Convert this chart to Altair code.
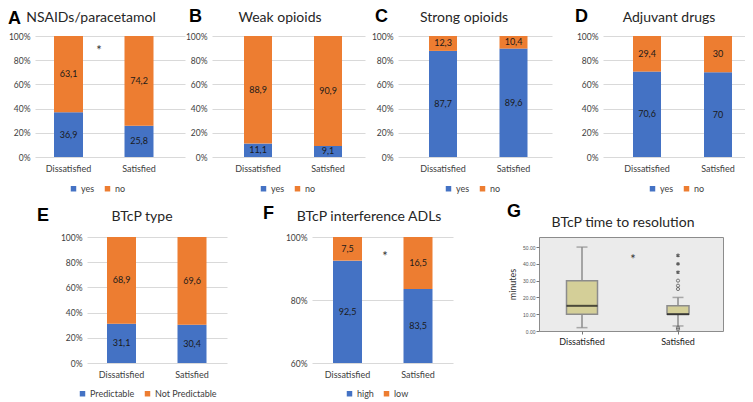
import altair as alt
import pandas as pd

# ---------------- data ----------------
categories = ["Dissatisfied", "Satisfied"]

yes_no = ["yes", "no"]
nsaids_yes = [36.9, 25.8]
nsaids_no = [63.1, 74.2]
weak_yes = [11.1, 9.1]
weak_no = [88.9, 90.9]
strong_yes = [87.7, 89.6]
strong_no = [12.3, 10.4]
adjuvant_yes = [70.6, 70]
adjuvant_no = [29.4, 30]

type_series = ["Predictable", "Not Predictable"]
type_pred = [31.1, 30.4]
type_notpred = [68.9, 69.6]

adl_series = ["high", "low"]
adl_high = [92.5, 83.5]
adl_low = [7.5, 16.5]

box_min = [2, 3]
box_q1 = [10, 10]
box_median = [15, 10]
box_q3 = [30, 15]
box_max = [50, 20]
outlier_cat = ["Satisfied", "Satisfied", "Satisfied", "Satisfied", "Satisfied"]
outlier_val = [25, 27, 30, 2, 1]
extreme_cat = ["Satisfied", "Satisfied", "Satisfied"]
extreme_val = [35, 40, 45]

pct_ticks = [0, 20, 40, 60, 80, 100]
adl_ticks = [60, 80, 100]
minute_ticks = [0, 10, 20, 30, 40, 50]

# ---------------- style ----------------
BLUE = "#4472C4"
ORANGE = "#ED7D31"
FONT = "Lato"
TXT = "#404040"
GRID = "#d9d9d9"
H1 = 121
H2 = 126
ASTERISK = "M0,-1L0,1M-0.87,-0.5L0.87,0.5M-0.87,0.5L0.87,-0.5"


def band_scale(W, c1, c2, bw):
    step = c2 - c1
    pi = 1 - bw / step
    outer = W - step - bw
    po = outer / (2 * step)
    al = (c1 - bw / 2) / outer
    return alt.Scale(type="band", domain=categories, paddingInner=pi,
                     paddingOuter=po, align=al)


def text_layer(txt, x, y, size, bold=False, font=FONT, align="left", color="#000"):
    return alt.Chart(pd.DataFrame({"t": [txt]})).mark_text(
        align=align, baseline="alphabetic", fontSize=size,
        fontWeight="bold" if bold else "normal", font=font, color=color
    ).encode(x=alt.value(x), y=alt.value(y), text="t:N")


def bar_panel(letter, title, series, first, second, W, H, c1, c2, bw, lo, ticks,
              L, T, LG, star=None):
    df = pd.DataFrame({
        "cat": categories * 2,
        "series": [series[0]] * 2 + [series[1]] * 2,
        "value": list(first) + list(second),
        "order": [0, 0, 1, 1],
    })
    xs = band_scale(W, c1, c2, bw)
    ys = alt.Scale(domain=[lo, 100], nice=False, zero=False)
    xaxis = alt.Axis(title=None, labelAngle=0, ticks=False, domain=False, grid=False,
                     labelPadding=7, labelFontSize=9, labelColor=TXT, labelFont=FONT)
    yaxis = alt.Axis(title=None, values=ticks, labelExpr="datum.value + '%'",
                     ticks=False, domain=False, grid=True, gridColor=GRID,
                     labelPadding=5, labelFontSize=8.5, labelColor=TXT, labelFont=FONT)
    base = alt.Chart(df).transform_stack(
        stack="value", groupby=["cat"], as_=["v0", "v1"],
        sort=[alt.SortField(field="order")]
    ).transform_calculate(
        mid=f"(max(datum.v0,{lo})+datum.v1)/2",
        lab="replace(toString(datum.value), '.', ',')",
    )
    X = alt.X("cat:N", scale=xs, axis=xaxis, title=None)
    bars = base.mark_bar(clip=True).encode(
        x=X,
        y=alt.Y("v0:Q", scale=ys, axis=yaxis, title=None),
        y2="v1:Q",
        color=alt.Color("series:N", scale=alt.Scale(domain=series, range=[BLUE, ORANGE]),
                        legend=alt.Legend(title=None, orient="none", legendX=LG[0],
                                          legendY=H + LG[1] - 5, direction="horizontal",
                                          symbolType="square", symbolSize=30,
                                          symbolStrokeWidth=0, labelFontSize=9,
                                          labelFont=FONT, labelColor=TXT,
                                          columnPadding=8, labelOffset=3, padding=0)),
    )
    labels = base.mark_text(fontSize=9, font=FONT, color="#1a1a1a", baseline="middle").encode(
        x=X, y=alt.Y("mid:Q", scale=ys, axis=yaxis, title=None), text="lab:N")
    layers = [bars, labels,
              text_layer(letter, L[0], L[1], 18, bold=True, font="Liberation Sans"),
              text_layer(title, T[0], T[1], 14, align="center", color="#262626")]
    if star is not None:
        layers.append(alt.Chart(pd.DataFrame({"t": ["*"], "y": [star[1]]})).mark_text(
            fontSize=13, font=FONT, baseline="middle", dy=3, color="#333").encode(
            x=alt.value(star[0]), y=alt.Y("y:Q", scale=ys, axis=yaxis, title=None), text="t:N"))
    return alt.layer(*layers).properties(width=W, height=H)


A = bar_panel("A", "NSAIDs/paracetamol", yes_no, nsaids_yes, nsaids_no, 150, H1,
              33.5, 104, 29, 0, pct_ticks, (-27, -12), (56, -14), (34, 32), star=(64, 90))
B = bar_panel("B", "Weak opioids", yes_no, weak_yes, weak_no, 153, H1,
              46, 116, 28, 0, pct_ticks, (-23, -14), (68, -14), (47, 32))
C = bar_panel("C", "Strong opioids", yes_no, strong_yes, strong_no, 154, H1,
              45, 115.5, 28, 0, pct_ticks, (-23, -14), (66, -14), (46, 32))
D = bar_panel("D", "Adjuvant drugs", yes_no, adjuvant_yes, adjuvant_no, 142, H1,
              44, 115, 28, 0, pct_ticks, (-28, -14), (66, -14), (45, 32))
E = bar_panel("E", "BTcP type", type_series, type_pred, type_notpred, 140, H2,
              34.5, 105, 29, 0, pct_ticks, (-50, -16), (55, -16), (-9, 31))
F = bar_panel("F", "BTcP interference ADLs", adl_series, adl_high, adl_low, 141, H2,
              35.5, 106, 29, 60, adl_ticks, (-49, -18), (57, -16), (33, 31), star=(73, 94.7))

# ---------------- box plot panel G ----------------
GW, GH = 184, 94
gdf = pd.DataFrame({"cat": categories, "lo": box_min, "q1": box_q1, "med": box_median,
                    "q3": box_q3, "hi": box_max})
odf = pd.DataFrame({"cat": outlier_cat, "v": outlier_val})
edf = pd.DataFrame({"cat": extreme_cat, "v": extreme_val})
gxs = band_scale(GW, 43, 139, 48)
gys = alt.Scale(domain=[0, 56], nice=False)
gyax = alt.Axis(values=minute_ticks, format=".2f", labelFontSize=5, labelColor="#555",
                labelFont="Liberation Sans", tickSize=3, tickColor="#777", domain=False,
                grid=False, titleFontSize=9, titleFont=FONT, titleFontWeight="normal",
                titleColor="#333", titlePadding=5, labelPadding=1)
gxax = alt.Axis(title=None, labelAngle=0, tickSize=3, tickColor="#777", domain=False,
                labelFontSize=9, labelColor="#222", labelPadding=3, labelFont=FONT)
GX = alt.X("cat:N", scale=gxs, axis=gxax, title=None)


def GY(f):
    return alt.Y(f, scale=gys, axis=gyax, title="minutes")


WHISK = "#8c8c8c"
gbase = alt.Chart(gdf)
g_layers = [
    gbase.mark_rule(color=WHISK, strokeWidth=1.5).encode(x=GX, y=GY("lo:Q"), y2="q1:Q"),
    gbase.mark_rule(color=WHISK, strokeWidth=1.5).encode(x=GX, y=GY("q3:Q"), y2="hi:Q"),
    gbase.transform_fold(["lo", "hi"], as_=["k", "v"]).mark_tick(
        color=WHISK, thickness=1.5, size=11).encode(x=GX, y=GY("v:Q")),
]
box_widths = [31, 22]
for cat, bwid in zip(categories, box_widths):
    sub = gbase.transform_filter(alt.datum.cat == cat)
    g_layers.append(sub.mark_bar(width=bwid, fill="#d4cf98", stroke=WHISK, strokeWidth=1.5)
                    .encode(x=GX, y=GY("q1:Q"), y2="q3:Q"))
    g_layers.append(sub.mark_tick(color="#111", thickness=2, size=bwid)
                    .encode(x=GX, y=GY("med:Q")))
g_layers.append(alt.Chart(odf).mark_point(shape="circle", filled=False, size=10,
                                          color="#444", strokeWidth=1)
                .encode(x=GX, y=GY("v:Q")))
g_layers.append(alt.Chart(edf).mark_point(shape=ASTERISK, filled=False, size=14,
                                          color="#222", strokeWidth=1.2)
                .encode(x=GX, y=GY("v:Q")))
g_layers.append(alt.Chart(pd.DataFrame({"t": ["*"], "y": [44]})).mark_text(
    fontSize=13, font=FONT, baseline="middle", dy=3, color="#333").encode(
    x=alt.value(94), y=GY("y:Q"), text="t:N"))
g_layers.append(text_layer("G", -32, -20, 18, bold=True, font="Liberation Sans"))
g_layers.append(text_layer("BTcP time to resolution", 84, -10, 14, align="center",
                           color="#262626"))
G = alt.layer(*g_layers).properties(
    width=GW, height=GH,
    view=alt.ViewBackground(fill="#ebebeb", stroke="#8c8c8c", strokeWidth=1))


def spacer(w, h):
    return alt.Chart(pd.DataFrame({"z": [0]})).mark_point(opacity=0).encode(
        x=alt.value(0), y=alt.value(0)).properties(width=w, height=h)


row1 = alt.hconcat(A, spacer(27, H1), B, spacer(33, H1), C, spacer(51, H1), D,
                   spacing=0, bounds="flush").resolve_scale(color="independent").resolve_legend(color="independent")
row2 = alt.hconcat(spacer(52, 10), E, spacer(85, 10), F, spacer(86, 10), G,
                   spacing=0, bounds="flush").resolve_scale(color="independent").resolve_legend(color="independent")

chart = alt.vconcat(row1, row2, spacing=8).resolve_scale(color="independent").resolve_legend(
    color="independent").properties(padding=0).configure(background="white").configure_view(strokeWidth=0)

chart.save("out.html", embed_options={"renderer": "svg", "actions": False})
